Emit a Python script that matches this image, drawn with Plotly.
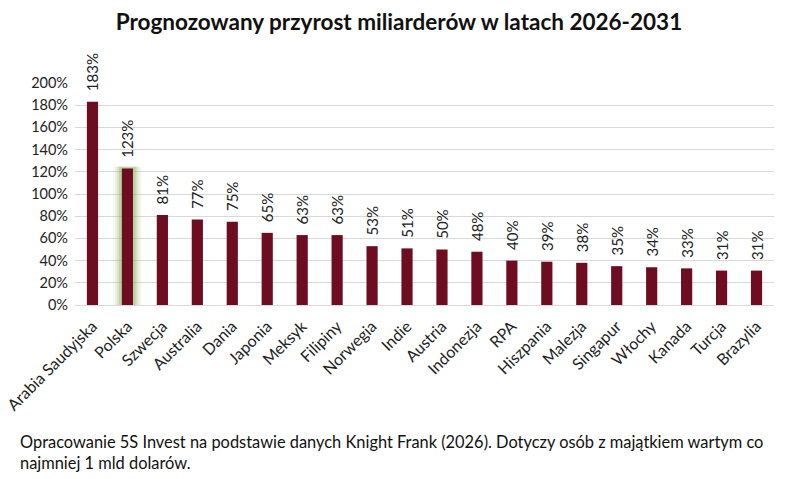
import plotly.graph_objects as go

categories = ["Arabia Saudyjska", "Polska", "Szwecja", "Australia", "Dania", "Japonia",
              "Meksyk", "Filipiny", "Norwegia", "Indie", "Austria", "Indonezja", "RPA",
              "Hiszpania", "Malezja", "Singapur", "Włochy", "Kanada", "Turcja", "Brazylia"]
values = [1.83, 1.23, 0.81, 0.77, 0.75, 0.65, 0.63, 0.63, 0.53, 0.51, 0.50, 0.48, 0.40,
          0.39, 0.38, 0.35, 0.34, 0.33, 0.31, 0.31]
labels = ["183%", "123%", "81%", "77%", "75%", "65%", "63%", "63%", "53%", "51%", "50%",
          "48%", "40%", "39%", "38%", "35%", "34%", "33%", "31%", "31%"]
highlight = "Polska"

title = "Prognozowany przyrost miliarderów w latach 2026-2031"
footnote = ("Opracowanie 5S Invest na podstawie danych Knight Frank (2026). Dotyczy osób z majątkiem wartym co<br>"
            "najmniej 1 mld dolarów.")

FONT = "Lato, Carlito, 'Open Sans', sans-serif"
BAR = "#6E0D21"

W, H = 798, 479
ML, MR, MT, MB = 75, 24, 83, 174

fig = go.Figure()

# soft glow behind the highlighted bar
hi_idx = categories.index(highlight)
for w, a in [(0.82, 0.08), (0.70, 0.13), (0.58, 0.20), (0.47, 0.30)]:
    fig.add_trace(go.Bar(
        x=[highlight], y=[values[hi_idx] + 0.015], width=w,
        marker=dict(color=f"rgba(140,175,90,{a})", line=dict(width=0)),
        hoverinfo="skip", showlegend=False))

fig.add_trace(go.Bar(
    x=categories, y=values, width=0.32,
    marker=dict(color=BAR, line=dict(width=0)),
    text=["\u00a0\u00a0" + t for t in labels], textposition="outside", textangle=-90,
    constraintext="none",
    textfont=dict(family=FONT, size=15, color="#222222"),
    cliponaxis=False, showlegend=False))

fig.update_layout(
    width=W, height=H, barmode="overlay",
    margin=dict(l=ML, r=MR, t=MT, b=MB, autoexpand=False),
    paper_bgcolor="white", plot_bgcolor="white",
    font=dict(family=FONT, color="#222222"),
    title=dict(text=f"<b>{title}</b>", x=0.5, xanchor="center", y=1 - 22 / H, yanchor="middle",
               font=dict(family=FONT, size=22.5, color="#111111")),
    xaxis=dict(type="category", categoryorder="array", categoryarray=categories,
               tickangle=-45, tickfont=dict(size=16, color="#222222"),
               showgrid=False, showline=False, ticks="", ticklabelstandoff=8,
               range=[-0.5, len(categories) - 0.5], automargin=False),
    yaxis=dict(range=[0, 2.0], dtick=0.2, tickformat=".0%", showgrid=True,
               gridcolor="#D9D9D9", gridwidth=1, zeroline=True, zerolinecolor="#D9D9D9",
               zerolinewidth=1, tickfont=dict(size=14.5, color="#222222"), ticks="",
               ticklabelstandoff=6, automargin=False),
    annotations=[dict(
        text=footnote, xref="paper", yref="paper",
        x=(18 - ML) / (W - ML - MR), y=-(452 - (H - MB)) / (H - MT - MB),
        xanchor="left", yanchor="middle", align="left", showarrow=False,
        font=dict(family=FONT, size=16.4, color="#111111"))],
)

fig.write_html("out.html", config={"displayModeBar": False},
               post_script="document.body.style.margin='0px';")
